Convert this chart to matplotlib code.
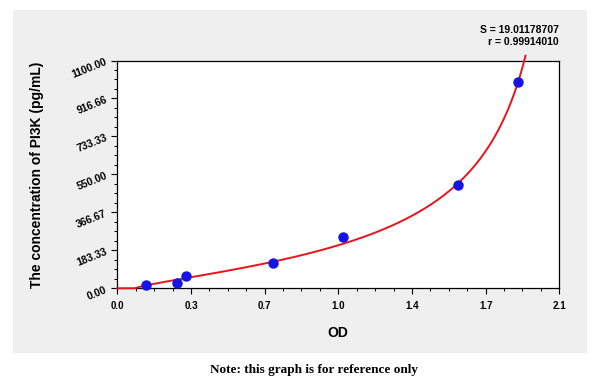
import numpy as np
import matplotlib
matplotlib.use("Agg")
import matplotlib.pyplot as plt
from matplotlib.patches import Rectangle
from matplotlib.ticker import FixedLocator, AutoMinorLocator

# data
od = [0.135, 0.285, 0.325, 0.738, 1.074, 1.617, 1.905]
conc = [16, 27, 60, 121, 249, 500, 998]
xtick_vals = [0.0, 0.35, 0.7, 1.05, 1.4, 1.75, 2.1]
xtick_labels = ["0.0", "0.3", "0.7", "1.0", "1.4", "1.7", "2.1"]
ytick_vals = [0.0, 183.33, 366.67, 550.0, 733.33, 916.66, 1100.0]
ytick_labels = ["0.00", "183.33", "366.67", "550.00", "733.33", "916.66", "1100.00"]
stats_text = "S = 19.01178707\nr = 0.99914010"

# inverse four-parameter logistic fit (grid over asymptotes, linear fit in log space)
o = np.array(od)
c = np.array(conc, dtype=float)
best = None
for a in np.linspace(-0.3, 0.13, 87):
    for d in np.linspace(1.91, 3.5, 160):
        z = np.log((o - a) / (d - o))
        m, k = np.polyfit(z, np.log(c), 1)
        pred = np.exp(k + m * z)
        err = np.sum((pred - c) ** 2)
        if best is None or err < best[0]:
            best = (err, a, d, m, k)
_, A, D, M, K = best


def model(x):
    x = np.asarray(x, dtype=float)
    out = np.zeros_like(x)
    ok = x > A
    out[ok] = np.exp(K) * ((x[ok] - A) / (D - x[ok])) ** M
    return out


xs = np.linspace(0.0, D - 1e-4, 4000)
ys = model(xs)
keep = ys <= 1125
xs, ys = xs[keep], ys[keep]

W, H = 600, 380
fig = plt.figure(figsize=(W / 100, H / 100), dpi=100)
fig.patch.set_facecolor("white")

# gray panel
fig.patches.append(Rectangle((13 / W, 1 - 353 / H), (587 - 13) / W, (353 - 10) / H,
                             transform=fig.transFigure, facecolor="#efefef",
                             edgecolor="none", zorder=-5))

ax = fig.add_axes([117.3 / W, 1 - 288.3 / H, (559.3 - 117.3) / W, (288.3 - 60.5) / H])
ax.set_zorder(2)
ax.set_facecolor("white")
ax.set_xlim(0, 2.1)
ax.set_ylim(0, 1100)

ax.plot(xs, ys, color="#e8141c", lw=1.4, clip_on=False, zorder=3)
ax.plot(od, conc, "o", color="#1414e6", ms=6.5, zorder=4, clip_on=False)

ax.xaxis.set_major_locator(FixedLocator(xtick_vals))
ax.set_xticklabels(xtick_labels, fontsize=7, fontweight="bold", family="Liberation Sans")
ax.yaxis.set_major_locator(FixedLocator(ytick_vals))
ax.set_yticklabels(ytick_labels, fontsize=7.5, fontweight="bold", family="Liberation Sans",
                   rotation=22, ha="right", rotation_mode="anchor")
ax.xaxis.set_minor_locator(AutoMinorLocator(4))
ax.yaxis.set_minor_locator(AutoMinorLocator(4))
ax.tick_params(which="major", direction="out", length=4, width=0.8, pad=4)
ax.tick_params(which="minor", direction="out", length=2.5, width=0.7)
ax.tick_params(axis="x", which="major", pad=5)
for sp in ax.spines.values():
    sp.set_linewidth(0.9)

ax.set_xlabel("OD", fontsize=10, fontweight="bold", family="Liberation Sans", labelpad=11)
ax.set_ylabel("The concentration of PI3K (pg/mL)", fontsize=10, fontweight="bold",
              family="Liberation Sans", labelpad=19)

fig.text(559 / W, 1 - 36 / H, stats_text, ha="right", va="center", fontsize=7.5,
         fontweight="bold", family="Liberation Sans", linespacing=1.25)
fig.text(314 / W, 1 - 370 / H, "Note: this graph is for reference only", ha="center",
         va="center", fontsize=9.5, fontweight="bold", family="Liberation Serif")

fig.savefig("out.png", dpi=100, facecolor=fig.get_facecolor())
